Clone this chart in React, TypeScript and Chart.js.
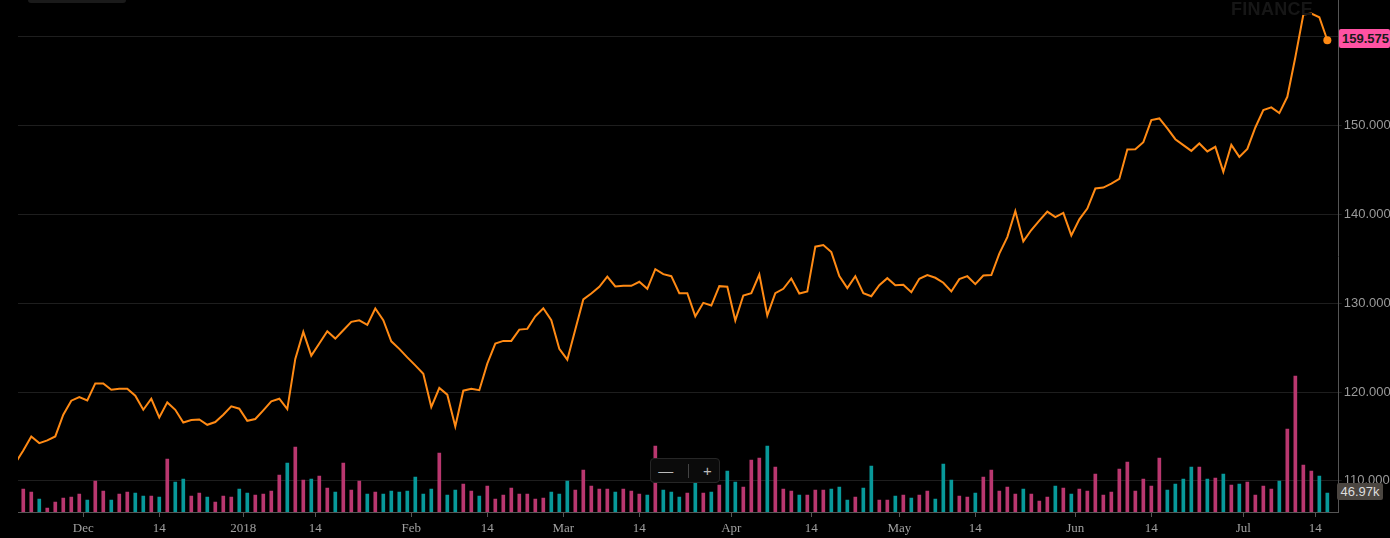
import { useEffect, useRef } from 'react';
import { Chart, registerables } from 'chart.js';

Chart.register(...registerables);

// trading days from Nov 17 2017 (index -1) to Jul 17 2018 (index 163)
const firstIndex = -1;

const prices: number[] = [
  112.0,
  113.42, 115.0, 114.25, 114.55, 115.0, 117.44, 119.02, 119.43, 119.05, 120.97,
  120.97, 120.26, 120.37, 120.37, 119.58, 118.0, 119.24, 117.14, 118.83, 118.0,
  116.57, 116.84, 116.91, 116.31, 116.62, 117.44, 118.38, 118.12, 116.76, 116.96,
  117.93, 118.94, 119.24, 118.08, 123.72, 126.76, 124.09, 125.45, 126.83, 126.01,
  126.94, 127.89, 128.07, 127.55, 129.39, 128.07, 125.7, 124.85, 123.9, 123.0,
  122.06, 118.31, 120.45, 119.7, 116.12, 120.15, 120.37, 120.2, 123.19, 125.45,
  125.75, 125.75, 127.02, 127.1, 128.52, 129.42, 128.07, 124.85, 123.64, 127.02,
  130.41, 131.08, 131.84, 132.97, 131.87, 131.95, 131.95, 132.4, 131.61, 133.82,
  133.26, 133.03, 131.12, 131.12, 128.52, 130.03, 129.73, 131.91, 131.84, 128.04,
  130.86, 131.12, 133.22, 128.6, 131.12, 131.61, 132.77, 131.08, 131.31, 136.35,
  136.53, 135.74, 133.03, 131.68, 133.03, 131.12, 130.78, 132.02, 132.81, 132.02,
  132.06, 131.23, 132.74, 133.15, 132.85, 132.29, 131.31, 132.7, 133.03, 132.13,
  133.11, 133.15, 135.56, 137.43, 140.36, 136.94, 138.22, 139.28, 140.29, 139.68,
  140.14, 137.62, 139.43, 140.63, 142.89, 143.0, 143.45, 143.97, 147.28, 147.32,
  148.11, 150.59, 150.78, 149.65, 148.44, 147.77, 147.13, 147.96, 147.06, 147.58,
  144.76, 147.8, 146.45, 147.35, 149.76, 151.71, 152.02, 151.38, 153.21, 157.66,
  162.46, 162.57, 162.16, 159.575,
];

// volume in thousands
const volumes: number[] = [
  49.4,
  56.8, 49.4, 32.1, 9.9, 24.7, 34.6, 37.1, 44.5, 29.6, 76.6,
  51.9, 29.6, 44.5, 49.4, 46.9, 39.5, 39.5, 37.1, 130.9, 74.1,
  81.5, 39.5, 46.9, 37.1, 24.7, 39.5, 37.1, 56.8, 46.9, 42.0,
  44.5, 51.9, 91.4, 121.0, 160.6, 79.0, 81.5, 88.9, 59.3, 49.4,
  121.0, 54.3, 76.6, 44.5, 49.4, 44.5, 51.9, 49.4, 51.9, 86.5,
  44.5, 56.8, 145.7, 42.0, 54.3, 69.2, 51.9, 39.5, 64.2, 32.1,
  42.0, 59.3, 44.5, 44.5, 32.1, 34.6, 49.4, 44.5, 76.6, 54.3,
  103.7, 64.2, 56.8, 56.8, 49.4, 56.8, 51.9, 44.5, 42.0, 163.0,
  54.3, 49.4, 37.1, 46.9, 76.6, 46.9, 49.4, 66.7, 101.3, 74.1,
  61.8, 128.4, 133.4, 163.0, 111.2, 56.8, 51.9, 42.0, 42.0, 54.3,
  54.3, 56.8, 61.8, 29.6, 37.1, 59.3, 113.6, 29.6, 29.6, 39.5,
  42.0, 34.6, 42.0, 51.9, 32.1, 118.6, 79.0, 39.5, 37.1, 46.9,
  86.5, 103.7, 51.9, 61.8, 44.5, 56.8, 44.5, 27.2, 37.1, 64.2,
  59.3, 44.5, 56.8, 51.9, 93.9, 42.0, 49.4, 106.2, 123.5, 51.9,
  81.5, 64.2, 133.4, 54.3, 69.2, 81.5, 111.2, 111.2, 81.5, 84.0,
  93.9, 66.7, 69.2, 74.1, 42.0, 64.2, 56.8, 76.6, 205.0, 335.9,
  116.1, 101.3, 88.9, 46.97,
];

// u = teal bar, d = pink bar
const volumeDir =
  'd' +
  'ddudddddud' + 'dudduududu' + 'udduddduud' + 'dddudduddu' +
  'ddduduuuuu' + 'uuduuddudd' + 'dddddduuud' + 'ddddudddud' +
  'uuudududuu' + 'dddudddudd' + 'duuuduuddu' + 'dudduuuddu' +
  'dddddudddu' + 'dudddddddd' + 'ddduuuudud' + 'ududdddudd' +
  'dduu';

const tickIndex: number[] = [7.5, 17, 27.5, 36.5, 48.5, 58, 67.5, 77, 88.5, 98.5, 109.5, 119, 131.5, 141, 152.5, 161.5];
const tickLabels: string[] = ['Dec', '14', '2018', '14', 'Feb', '14', 'Mar', '14', 'Apr', '14', 'May', '14', 'Jun', '14', 'Jul', '14'];
const priceTicks: number[] = [110, 120, 130, 140, 150, 160];

const ORANGE = '#ff8a14';
const PINK = '#b9376f';
const TEAL = '#08999a';
const SANS = '"Liberation Sans", Arial, sans-serif';

const noPad = (s: any) => {
  s.paddingTop = 0;
  s.paddingBottom = 0;
  s.paddingLeft = 0;
  s.paddingRight = 0;
};

const App = () => {
  const canvasRef = useRef<HTMLCanvasElement>(null);
  const chartRef = useRef<Chart | null>(null);

  useEffect(() => {
    document.body.style.margin = '0';
    document.body.style.background = '#000';
    if (!canvasRef.current) return;
    const ctx = canvasRef.current.getContext('2d');
    if (!ctx) return;
    if (chartRef.current) chartRef.current.destroy();

    const last = prices.length - 1;
    chartRef.current = new Chart(ctx, {
      type: 'bar',
      data: {
        datasets: [
          {
            type: 'line',
            data: prices.map((p, i) => ({ x: firstIndex + i, y: p })),
            yAxisID: 'y',
            borderColor: ORANGE,
            borderWidth: 2,
            pointRadius: prices.map((_, i) => (i === last ? 4 : 0)),
            pointBackgroundColor: ORANGE,
            pointBorderWidth: 0,
            tension: 0,
            order: 0,
            clip: 0,
          } as any,
          {
            type: 'bar',
            data: volumes.map((v, i) => ({ x: firstIndex + i, y: v })),
            yAxisID: 'vol',
            backgroundColor: volumeDir.split('').map((c) => (c === 'u' ? TEAL : PINK)),
            barThickness: 3,
            order: 1,
            clip: 0,
          } as any,
        ],
      },
      options: {
        animation: false,
        responsive: false,
        layout: { autoPadding: false, padding: { left: 18, top: 0, right: 0, bottom: 0 } },
        plugins: { legend: { display: false }, tooltip: { enabled: false } },
        scales: {
          x: {
            type: 'linear',
            offset: false,
            min: -0.66,
            max: 164.42,
            grid: { offset: false, drawOnChartArea: false, drawTicks: true, tickLength: 5, color: '#555' },
            border: { color: '#555' },
            ticks: {
              autoSkip: false,
              maxRotation: 0,
              color: '#a0a0a0',
              padding: 4,
              font: { family: '"Liberation Serif", "DejaVu Serif", serif', size: 13 },
              callback: (_v: any, i: number) => tickLabels[i],
            },
            afterBuildTicks: (s: any) => {
              s.ticks = tickIndex.map((v) => ({ value: v }));
            },
            afterFit: (s: any) => {
              s.height = 26;
              noPad(s);
            },
          },
          y: {
            position: 'right',
            min: 106.5,
            max: 164.1,
            grid: { color: '#1e1e1e', tickLength: 3 },
            border: { color: '#555' },
            ticks: {
              color: '#9a9a9a',
              padding: 2,
              font: { family: SANS, size: 13 },
              callback: (v: any) => Number(v).toFixed(3),
            },
            afterBuildTicks: (s: any) => {
              s.ticks = priceTicks.map((v) => ({ value: v }));
            },
            afterFit: (s: any) => {
              s.width = 51.3;
              noPad(s);
            },
          },
          vol: {
            display: false,
            position: 'left',
            min: 0,
            max: 1266,
          },
        },
      },
    });

    return () => {
      if (chartRef.current) {
        chartRef.current.destroy();
        chartRef.current = null;
      }
    };
  }, []);

  return (
    <div style={{ position: 'relative', width: 1390, height: 538, background: '#000', overflow: 'hidden', fontFamily: SANS }}>
      <canvas ref={canvasRef} width={1390} height={538} style={{ display: 'block' }}></canvas>
      <div style={{ position: 'absolute', left: 28, top: -8, width: 98, height: 11, background: '#1a1a1a', borderRadius: 3 }} />
      <div style={{ position: 'absolute', left: 1231, top: -1, fontSize: 18, fontWeight: 'bold', color: '#161616', letterSpacing: 0.3 }}>
        FINANCE
      </div>
      <div
        style={{
          position: 'absolute', left: 1339, top: 29, width: 51, height: 19, background: '#ff52a3',
          color: '#1a1a1a', fontSize: 13, fontWeight: 'bold', lineHeight: '19px', paddingLeft: 3,
          boxSizing: 'border-box', whiteSpace: 'nowrap', borderRadius: 2,
        }}
      >
        159.575
      </div>
      <div
        style={{
          position: 'absolute', left: 1337, top: 483, width: 46, height: 17, background: '#4b4641',
          color: '#ddd', fontSize: 13, lineHeight: '17px', textAlign: 'center', borderRadius: 2,
        }}
      >
        46.97k
      </div>
      <div
        style={{
          position: 'absolute', left: 650, top: 458, width: 70, height: 25, background: '#0b0b0b',
          border: '1px solid #262626', borderRadius: 4, color: '#bbb', fontSize: 15, lineHeight: '25px',
          display: 'flex', alignItems: 'center', justifyContent: 'space-around', boxSizing: 'border-box',
        }}
      >
        <span>—</span>
        <span style={{ width: 1, height: 14, background: '#444' }} />
        <span>+</span>
      </div>
    </div>
  );
};

export default App;
